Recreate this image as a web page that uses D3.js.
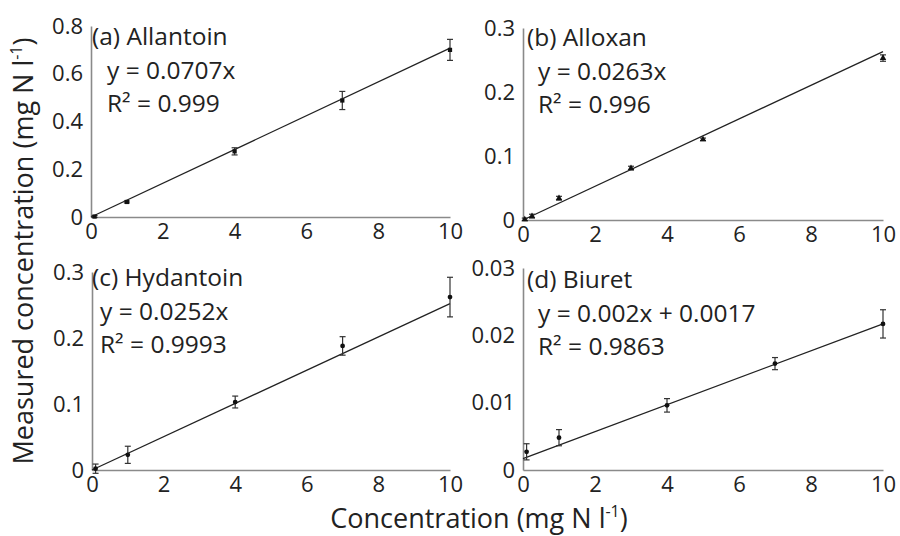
<!DOCTYPE html>
<html>
<head>
<meta charset="utf-8">
<script src="https://cdn.jsdelivr.net/npm/d3@7"></script>
<style>
  body { margin: 0; background: #fff; }
  text { font-family: "Open Sans", sans-serif; fill: #222; }
</style>
</head>
<body>
<script>
// data
var xTicks = [0, 2, 4, 6, 8, 10];

var allantoinX = [0.1, 1, 4, 7, 10];
var allantoinY = [0.002, 0.063, 0.275, 0.488, 0.70];
var allantoinErr = [0.004, 0.004, 0.015, 0.038, 0.044];

var alloxanX = [0.05, 0.25, 1, 3, 5, 10];
var alloxanY = [0.001, 0.006, 0.034, 0.081, 0.126, 0.253];
var alloxanErr = [0.002, 0.003, 0.003, 0.003, 0.002, 0.005];

var hydantoinX = [0.1, 1, 4, 7, 10];
var hydantoinY = [0.002, 0.023, 0.103, 0.188, 0.262];
var hydantoinErr = [0.007, 0.013, 0.009, 0.014, 0.030];

var biuretX = [0.1, 1, 4, 7, 10];
var biuretY = [0.0027, 0.0048, 0.0096, 0.0158, 0.0217];
var biuretErr = [0.0012, 0.0012, 0.0010, 0.0009, 0.0021];

var panelTitles = ["(a) Allantoin", "(b) Alloxan", "(c) Hydantoin", "(d) Biuret"];
var equations = ["y = 0.0707x", "y = 0.0263x", "y = 0.0252x", "y = 0.002x + 0.0017"];
var rSquared = ["0.999", "0.996", "0.9993", "0.9863"];
var slopes = [0.0707, 0.0263, 0.0252, 0.002];
var intercepts = [0, 0, 0, 0.0017];

var yTicks = [
  [0, 0.2, 0.4, 0.6, 0.8],
  [0, 0.1, 0.2, 0.3],
  [0, 0.1, 0.2, 0.3],
  [0, 0.01, 0.02, 0.03]
];
var yTickLabels = [
  ["0", "0.2", "0.4", "0.6", "0.8"],
  ["0", "0.1", "0.2", "0.3"],
  ["0", "0.1", "0.2", "0.3"],
  ["0", "0.01", "0.02", "0.03"]
];

var series = [
  { x: allantoinX, y: allantoinY, err: allantoinErr, marker: d3.symbolSquare },
  { x: alloxanX, y: alloxanY, err: alloxanErr, marker: d3.symbolTriangle },
  { x: hydantoinX, y: hydantoinY, err: hydantoinErr, marker: d3.symbolCircle },
  { x: biuretX, y: biuretY, err: biuretErr, marker: d3.symbolCircle }
];

// panel boxes in pixels
var boxes = [
  { left: 91, right: 450, top: 26, bottom: 217, tx: 92, ty: 45, ex: 107 },
  { left: 523, right: 883, top: 28, bottom: 220, tx: 527, ty: 46, ex: 538 },
  { left: 92, right: 450, top: 272, bottom: 470, tx: 92, ty: 286, ex: 100 },
  { left: 523, right: 883, top: 268, bottom: 470, tx: 527, ty: 288, ex: 538 }
];
var lineGap = 33.5;

var width = 900, height = 536;
var svg = d3.select("body").append("svg")
  .attr("width", width)
  .attr("height", height);

series.forEach(function(s, i) {
  var b = boxes[i];
  var ticks = yTicks[i];
  var x = d3.scaleLinear().domain([0, 10]).range([b.left, b.right]);
  var y = d3.scaleLinear().domain([0, ticks[ticks.length - 1]]).range([b.bottom, b.top]);
  var g = svg.append("g");

  // axes
  var xAxis = g.append("g")
    .attr("transform", "translate(0," + b.bottom + ")")
    .call(d3.axisBottom(x).tickValues(xTicks).tickSize(0).tickSizeOuter(0).tickPadding(6).tickFormat(d3.format("d")));
  var yAxis = g.append("g")
    .attr("transform", "translate(" + b.left + ",0)")
    .call(d3.axisLeft(y).tickValues(ticks).tickSize(0).tickSizeOuter(0).tickPadding(8)
      .tickFormat(function(d, k) { return yTickLabels[i][k]; }));
  [xAxis, yAxis].forEach(function(a) {
    a.select(".domain").attr("stroke", "#8a8a8a").attr("stroke-width", 1.6);
    a.selectAll("text").attr("font-size", 22).attr("fill", "#222")
      .style("font-family", "'Open Sans', sans-serif");
  });

  // fit line
  var line = d3.line().x(function(d) { return x(d); })
    .y(function(d) { return y(slopes[i] * d + intercepts[i]); });
  g.append("path").datum([0, 10])
    .attr("d", line)
    .attr("fill", "none")
    .attr("stroke", "#222")
    .attr("stroke-width", 1.3);

  // error bars
  var pts = s.x.map(function(v, k) { return { x: v, y: s.y[k], e: s.err[k] }; });
  var eb = g.selectAll(".eb").data(pts).enter().append("g");
  eb.append("line")
    .attr("x1", function(d) { return x(d.x); })
    .attr("x2", function(d) { return x(d.x); })
    .attr("y1", function(d) { return y(d.y - d.e); })
    .attr("y2", function(d) { return y(d.y + d.e); })
    .attr("stroke", "#333").attr("stroke-width", 1.2);
  [-1, 1].forEach(function(sign) {
    eb.append("line")
      .attr("x1", function(d) { return x(d.x) - 3; })
      .attr("x2", function(d) { return x(d.x) + 3; })
      .attr("y1", function(d) { return y(d.y + sign * d.e); })
      .attr("y2", function(d) { return y(d.y + sign * d.e); })
      .attr("stroke", "#333").attr("stroke-width", 1.2);
  });

  // markers
  g.selectAll(".pt").data(pts).enter().append("path")
    .attr("d", d3.symbol().type(s.marker).size(18))
    .attr("transform", function(d) { return "translate(" + x(d.x) + "," + y(d.y) + ")"; })
    .attr("fill", "#111");

  // panel title and equation
  var label = g.append("text").attr("font-size", 24.5);
  label.append("tspan").attr("x", b.tx).attr("y", b.ty).text(panelTitles[i]);
  label.append("tspan").attr("x", b.ex).attr("y", b.ty + lineGap).text(equations[i]);
  label.append("tspan").attr("x", b.ex).attr("y", b.ty + 2 * lineGap).text("R\u00B2 = " + rSquared[i]);
});

// axis titles
var xt = svg.append("text")
  .attr("x", 479).attr("y", 528)
  .attr("text-anchor", "middle")
  .attr("font-size", 27)
  .text("Concentration (mg N l");
xt.append("tspan").attr("font-size", 16).attr("dy", -11).text("-1");
xt.append("tspan").attr("dy", 11).text(")");

var yt = svg.append("text")
  .attr("transform", "translate(33,251) rotate(-90)")
  .attr("text-anchor", "middle")
  .attr("font-size", 27)
  .text("Measured concentration (mg N l");
yt.append("tspan").attr("font-size", 16).attr("dy", -11).text("-1");
yt.append("tspan").attr("dy", 11).text(")");
</script>
</body>
</html>
